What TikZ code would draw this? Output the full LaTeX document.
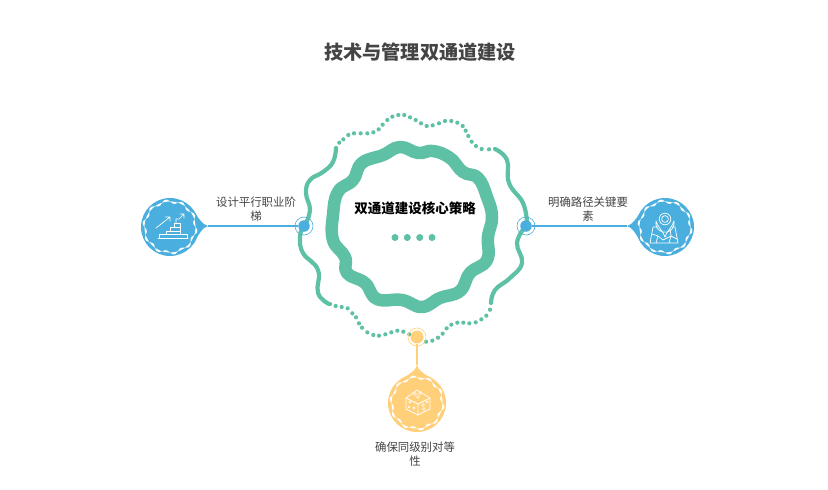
\documentclass[tikz,border=0pt]{standalone}
\usepackage{fontspec}
\setmainfont{Noto Sans CJK SC}
\definecolor{ringgreen}{HTML}{5EC0A5}
\definecolor{pinblue}{HTML}{4AAEDE}
\definecolor{pinyellow}{HTML}{FFCF7A}
\definecolor{labelgrey}{HTML}{444444}
\tikzset{
  x=1pt,y=-1pt,
  solidarc/.style={draw=ringgreen,line width=4.2pt,line cap=round,line join=round},
  disc/.style={circle,minimum size=58pt,inner sep=0pt,fill=#1},
  hub/.style={circle,minimum size=11.5pt,inner sep=0pt,fill=#1},
  halo/.style={circle,minimum size=18pt,inner sep=0pt,draw=#1,line width=0.6pt},
  caption/.style={text=labelgrey,font=\fontsize{11.4}{14}\selectfont,align=center},
  icon/.style={draw=white,line width=0.7pt,line join=round,line cap=round},
  dot/.style={circle,minimum size=7pt,inner sep=0pt,fill=ringgreen},
}
\newcommand{\wavering}[2]{\fill[white,even odd rule] plot[smooth cycle,samples=60,domain=0:354] ({#1+(25.6+2.2*sin(10*\x))*cos(\x)},{#2+(25.6+2.2*sin(10*\x))*sin(\x)}) (#1,#2) circle (25.6pt);}
\begin{document}
\begin{tikzpicture}
\useasboundingbox (0,0) rectangle (828,490);
\node[font=\fontsize{19.2}{22}\selectfont\bfseries,text=labelgrey] (title) at (420,52.5) {技术与管理双通道建设};

% thick ring
\draw[ringgreen,line width=12.5pt,line join=round] plot[smooth cycle,tension=0.75] coordinates {
 (400,147)(418,153)(433,151)(450,158)(463,172)(478,178)(487,197)(492,217)(488,237)(487,260)(470,273)(460,291)(440,298)(422,307)(402,300)(377,299)(365,283)(347,273)(345,257)(333,240)(333,215)(338,192)(353,180)(362,163)(383,155)};

% outer ring, solid parts
\draw[solidarc] plot[smooth,tension=0.75] coordinates {(336,148)(333,162)(323,172)(310,180)(306,193)(310,210)(305,225)};
\draw[solidarc] plot[smooth,tension=0.75] coordinates {(495,149)(507,160)(509,183)(523,203)(527,223)};
\draw[solidarc] plot[smooth,tension=0.75] coordinates {(525,227)(517,243)(522,263)(510,278)(495,290)(491,303)};
\draw[solidarc] plot[smooth,tension=0.75] coordinates {(303,227)(300,237)(303,253)(318,270)(318,293)(329,304)};
% outer ring, dotted parts
\foreach \p/\q in {148/128,160/118,175/105,192/100,212/100,232/100,250/97,266/88,278/74,292/60,307/50,325/45,343/45,360/52,377/60,393/70,410/78,428/76,447/70,465/63,484/63,502/68,518/78,527/92,535/108,545/125,558/138,575/147,597/148}
  \fill[ringgreen] (290+\p/3,100+\q/3) circle (2.1pt);
\foreach \p/\q in {120/252,137/258,155/261,173/265,187/280,198/292,207/310,216/323,232/337,250/345,267/347,286/343,304/337,322/332,340/335,358/343,408/365,427/362,444/353,458/341,470/325,484/314,502/308,520/308,538/310,557/307,574/298,589/287,600/269}
  \fill[ringgreen] (290+\p/3,220+\q/3) circle (2.1pt);

% left branch
\coordinate (ltip) at (208,226);
\node[disc=pinblue] (ldisc) at (170,227) {};
\fill[pinblue] (ltip) .. controls (203,225) and (198,218) .. (194,211) -- (194,243) .. controls (198,235) and (203,227) .. (ltip);
\node[hub=pinblue] (lhub) at (304,226) {};
\node[halo=pinblue] (lhalo) at (304,226) {};
\draw[pinblue,line width=1.3pt] (ltip) -- (lhub);
\wavering{170}{227}
% right branch
\coordinate (rtip) at (627,226);
\node[disc=pinblue] (rdisc) at (665,227) {};
\fill[pinblue] (rtip) .. controls (632,225) and (637,218) .. (641,211) -- (641,243) .. controls (637,235) and (632,227) .. (rtip);
\node[hub=pinblue] (rhub) at (526,226) {};
\node[halo=pinblue] (rhalo) at (526,226) {};
\draw[pinblue,line width=1.3pt] (rtip) -- (rhub);
\wavering{665}{227}
% bottom branch
\coordinate (btip) at (417,365);
\node[disc=pinyellow] (bdisc) at (417,403) {};
\fill[pinyellow] (btip) .. controls (418,370) and (425,375) .. (433,379) -- (401,379) .. controls (409,375) and (416,370) .. (btip);
\node[hub=pinyellow,minimum size=13pt] (bhub) at (417,337) {};
\node[halo=pinyellow] (bhalo) at (417,337) {};
\draw[pinyellow,line width=1.8pt] (btip) -- (bhub);
\wavering{417}{403}

% icon left: stairs
\draw[icon] (158,238)--(188,238) (159,238)--(159,234)--(187,234)--(187,238)
 (166,234)--(166,231)--(170,231)--(170,227)--(174,227)--(174,223)--(180,223)--(180,234)
 (174,227)--(180,227) (170,231)--(180,231);
\draw[icon] (156,228)--(170,217) (165.5,217)--(170,217)--(170,221);
\draw[icon] (176,223)--(176,219)--(179,219)--(184,214) (180,214)--(184,214)--(184,218);
% icon right: map pin
\draw[icon] (665,219) circle (5.8pt) (665,219) circle (3.4pt);
\draw[icon] (656,221) arc[start angle=193,end angle=-13,radius=9.2] .. controls (673,226) and (667,231) .. (665,237) .. controls (663,231) and (657,226) .. (656,221);
\draw[icon] (658,227)--(653,227)--(650,243)--(678,243)--(675,227)--(672,227)
 (652,234)--(658,236)--(656,243) (658,236)--(663,240)--(671,236)--(677,239) (671,236)--(669,243) (671,236)--(670,229);
% icon bottom: die
\draw[icon] (417,390)--(430,398)--(430,409)--(418,415)--(406,409)--(406,398)--cycle (406,398)--(418,404)--(430,398) (418,404)--(418,415);
\draw[icon,line width=0.5pt] (415,394) circle (1.5pt) (420,393) circle (1.5pt) (418,397) circle (1.5pt) (410,402) circle (1.2pt) (414,408) circle (1.2pt) (409,407) circle (1pt)
 (423,405) circle (1.5pt) (427,402) circle (1.2pt) (424,409) circle (1.5pt);

% centre
\node[font=\fontsize{13.5}{15}\selectfont\bfseries,text=black] (centre) at (415,208) {双通道建设核心策略};
\node[dot] (d1) at (395,237.5) {};
\node[dot] (d2) at (407.3,237.5) {};
\node[dot] (d3) at (419.7,237.5) {};
\node[dot] (d4) at (432,237.5) {};

% captions
\node[caption] (lcap) at (256,209.5) {设计平行职业阶\\梯};
\node[caption] (rcap) at (588,209.5) {明确路径关键要\\素};
\node[caption] (bcap) at (415,454.5) {确保同级别对等\\性};
\end{tikzpicture}
\end{document}
